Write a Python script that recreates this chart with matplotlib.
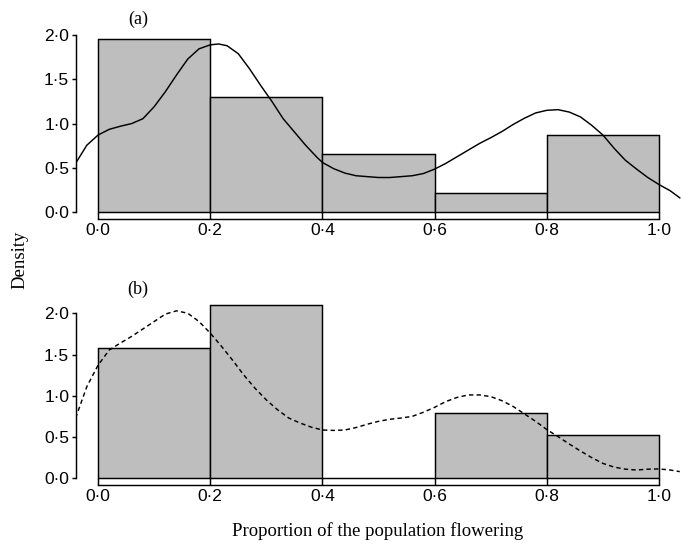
#!/usr/bin/env python
"""Two-panel histogram of flowering proportion with density curves (a) and (b)."""

import matplotlib

matplotlib.use("Agg")
import matplotlib.pyplot as plt
import numpy as np

# histogram bins (shared by both panels)
BIN_EDGES = [0.0, 0.2, 0.4, 0.6, 0.8, 1.0]

# panel (a): bar densities and solid density curve
DENS_A = [1.957, 1.304, 0.652, 0.217, 0.870]
CURVE_A_X = [-0.04, -0.02, 0.00, 0.02, 0.04, 0.06, 0.08, 0.10, 0.12, 0.14,
             0.16, 0.18, 0.20, 0.215, 0.23, 0.25, 0.27, 0.29, 0.31, 0.33,
             0.35, 0.37, 0.39, 0.40, 0.42, 0.44, 0.46, 0.48, 0.50, 0.52,
             0.54, 0.56, 0.58, 0.60, 0.62, 0.64, 0.66, 0.68, 0.70, 0.72,
             0.74, 0.76, 0.78, 0.80, 0.82, 0.84, 0.86, 0.88, 0.90, 0.92,
             0.94, 0.96, 0.98, 1.00, 1.02, 1.037]
CURVE_A_Y = [0.55, 0.755, 0.87, 0.935, 0.97, 1.00, 1.055, 1.19, 1.36, 1.55,
             1.73, 1.845, 1.89, 1.90, 1.88, 1.79, 1.62, 1.43, 1.25, 1.055,
             0.905, 0.755, 0.62, 0.56, 0.49, 0.44, 0.41, 0.40, 0.39, 0.39,
             0.40, 0.41, 0.435, 0.485, 0.55, 0.625, 0.70, 0.775, 0.84, 0.91,
             0.99, 1.06, 1.12, 1.15, 1.157, 1.13, 1.075, 0.98, 0.87, 0.72,
             0.585, 0.485, 0.39, 0.31, 0.24, 0.16]

# panel (b): bar densities and dashed density curve
DENS_B = [1.579, 2.105, 0.0, 0.789, 0.526]
CURVE_B_X = [-0.04, -0.02, 0.00, 0.02, 0.04, 0.06, 0.08, 0.10, 0.12, 0.14,
             0.16, 0.18, 0.20, 0.22, 0.24, 0.26, 0.28, 0.30, 0.32, 0.34,
             0.36, 0.38, 0.40, 0.42, 0.44, 0.46, 0.48, 0.50, 0.52, 0.54,
             0.56, 0.58, 0.60, 0.62, 0.64, 0.66, 0.68, 0.70, 0.72, 0.74,
             0.76, 0.78, 0.80, 0.82, 0.84, 0.86, 0.88, 0.90, 0.92, 0.94,
             0.96, 0.98, 1.00, 1.02, 1.037]
CURVE_B_Y = [0.73, 1.11, 1.37, 1.555, 1.64, 1.72, 1.81, 1.90, 1.99, 2.03,
             2.00, 1.90, 1.76, 1.60, 1.43, 1.25, 1.09, 0.95, 0.83, 0.73,
             0.67, 0.62, 0.585, 0.58, 0.585, 0.615, 0.655, 0.69, 0.715, 0.73,
             0.75, 0.80, 0.86, 0.93, 0.98, 1.01, 1.01, 0.99, 0.94, 0.87,
             0.78, 0.69, 0.59, 0.505, 0.415, 0.33, 0.25, 0.18, 0.135, 0.11,
             0.10, 0.11, 0.113, 0.10, 0.08]

X_TICKS = [0.0, 0.2, 0.4, 0.6, 0.8, 1.0]
X_TICK_LABELS = ["0·0", "0·2", "0·4", "0·6", "0·8", "1·0"]
Y_TICKS = [0.0, 0.5, 1.0, 1.5, 2.0]
Y_TICK_LABELS = ["0·0", "0·5", "1·0", "1·5", "2·0"]

SANS = "Liberation Sans"
SERIF = "Liberation Serif"
BAR_GREY = "#bebebe"
LW = 1.05


def draw_panel(ax, dens, cx, cy, dashed):
    left = np.array(BIN_EDGES[:-1])
    widths = np.diff(BIN_EDGES)
    ax.bar(left, dens, width=widths, align="edge", color=BAR_GREY,
           edgecolor="black", linewidth=LW, zorder=2)
    line, = ax.plot(cx, cy, color="black", linewidth=LW, zorder=3)
    if dashed:
        line.set_dashes((3.0, 2.2))

    top = max(dens)
    ax.set_xlim(-0.04, 1.04)
    ax.set_ylim(-0.04 * top, 1.04 * top)

    for side in ("top", "right"):
        ax.spines[side].set_visible(False)
    ax.spines["left"].set_bounds(0, 2)
    ax.spines["bottom"].set_bounds(0, 1)
    for side in ("left", "bottom"):
        ax.spines[side].set_linewidth(LW)

    ax.set_xticks(X_TICKS)
    ax.set_xticklabels(X_TICK_LABELS, family=SANS, fontsize=12.5)
    ax.set_yticks(Y_TICKS)
    ax.set_yticklabels(Y_TICK_LABELS, family=SANS, fontsize=12.5)
    # x ticks point up to the bar baseline, y ticks point outwards
    ax.tick_params(axis="x", direction="in", length=5.0, width=LW, pad=3)
    ax.tick_params(axis="y", direction="out", length=3.1, width=LW, pad=1.5)


def main():
    fig = plt.figure(figsize=(6.81, 5.48), dpi=100)
    ax_a = fig.add_axes([0.1110, 0.6005, 0.8897, 0.3411])
    ax_b = fig.add_axes([0.1110, 0.1146, 0.8897, 0.3422])

    draw_panel(ax_a, DENS_A, CURVE_A_X, CURVE_A_Y, dashed=False)
    draw_panel(ax_b, DENS_B, CURVE_B_X, CURVE_B_Y, dashed=True)

    fig.text(0.2026, 0.965, "(a)", family=SERIF, fontsize=13,
             ha="center", va="center")
    fig.text(0.2026, 0.4726, "(b)", family=SERIF, fontsize=13,
             ha="center", va="center")
    fig.text(0.029, 0.5255, "Density", family=SERIF, fontsize=13.5,
             rotation=90, ha="center", va="center")
    fig.text(0.555, 0.031, "Proportion of the population flowering",
             family=SERIF, fontsize=13.5, ha="center", va="center")

    fig.savefig("out.png", dpi=100)
    plt.close(fig)


if __name__ == "__main__":
    main()
